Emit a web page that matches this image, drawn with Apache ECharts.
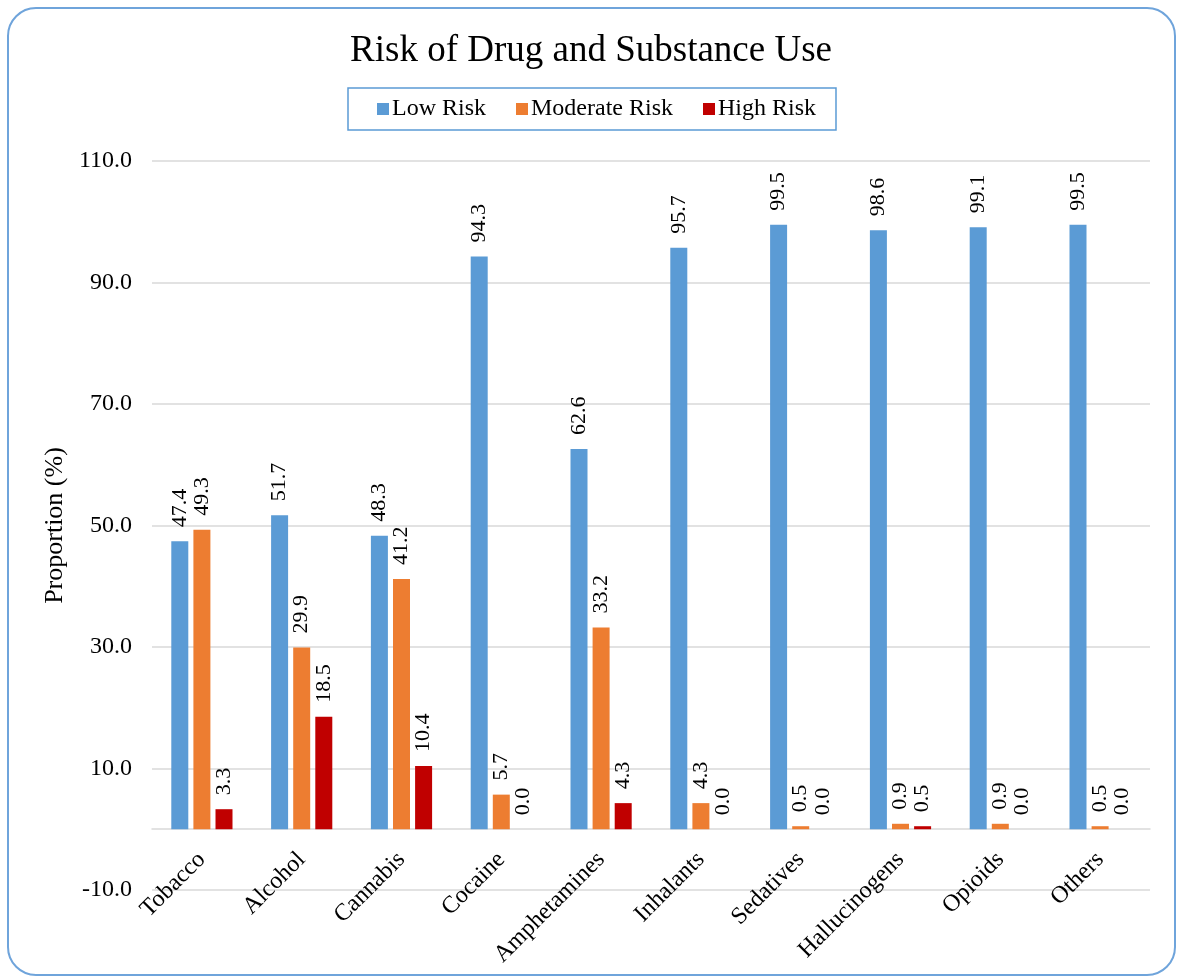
<!DOCTYPE html>
<html>
<head>
<meta charset="utf-8">
<script src="https://cdn.jsdelivr.net/npm/echarts@6/dist/echarts.min.js"></script>
<style>html,body{margin:0;padding:0;background:#fff;}#c{width:1182px;height:979px;}</style>
</head>
<body>
<div id="c"></div>
<script>
const categories = ['Tobacco','Alcohol','Cannabis','Cocaine','Amphetamines','Inhalants','Sedatives','Hallucinogens','Opioids','Others'];
const lowRisk = [47.4, 51.7, 48.3, 94.3, 62.6, 95.7, 99.5, 98.6, 99.1, 99.5];
const moderateRisk = [49.3, 29.9, 41.2, 5.7, 33.2, 4.3, 0.5, 0.9, 0.9, 0.5];
const highRisk = [3.3, 18.5, 10.4, 0.0, 4.3, 0.0, 0.0, 0.5, 0.0, 0.0];
const seriesNames = ['Low Risk','Moderate Risk','High Risk'];

const FONT = '"Liberation Serif","Times New Roman",serif';
const colors = ['#5B9BD5','#ED7D31','#C00000'];

const chart = echarts.init(document.getElementById('c'), null, {renderer:'canvas'});
function mk(name, data, color){
  return {
    name, type:'bar', data, barWidth:17, barGap:'30%',
    itemStyle:{color},
    label:{show:true, position:'top', rotate:90, align:'left', verticalAlign:'middle',
      distance:14, fontFamily:FONT, fontSize:22, color:'#000',
      formatter:p=>p.value.toFixed(1)}
  };
}
chart.setOption({
  animation:false,
  title:{text:'Risk of Drug and Substance Use', left:'center', top:28,
    textStyle:{fontFamily:FONT, fontSize:37, fontWeight:'normal', color:'#000'}},
  legend:{top:88, left:348, itemWidth:12, itemHeight:12, itemGap:30, icon:'rect',
    borderColor:'#5B9BD5', borderWidth:1.5, padding:[9,20,9,29],
    textStyle:{fontFamily:FONT, fontSize:24, color:'#000', padding:[0,0,0,-2]},
    data:seriesNames},
  grid:{left:152, right:32, top:161, bottom:89, containLabel:false, outerBoundsMode:'none'},
  xAxis:{type:'category', data:categories, offset:-61,
    axisLine:{onZero:false, lineStyle:{color:'#D9D9D9', width:1.5}},
    axisTick:{show:false},
    axisLabel:{rotate:45, interval:0, margin:27, hideOverlap:false, fontFamily:FONT, fontSize:24, color:'#000'}},
  yAxis:{type:'value', min:-10, max:110, interval:20,
    name:'Proportion (%)', nameLocation:'middle', nameGap:81, nameRotate:90,
    nameTextStyle:{fontFamily:FONT, fontSize:26, color:'#000'},
    axisLine:{show:false}, axisTick:{show:false},
    axisLabel:{fontFamily:FONT, fontSize:24, color:'#000', margin:20, formatter:v=>v.toFixed(1)},
    splitLine:{lineStyle:{color:'#D9D9D9', width:1.5}}},
  series:[mk(seriesNames[0], lowRisk, colors[0]), mk(seriesNames[1], moderateRisk, colors[1]), mk(seriesNames[2], highRisk, colors[2])],
  graphic:[{type:'rect', shape:{x:8, y:8, width:1167, height:967, r:28},
    style:{fill:'none', stroke:'#6FA4DB', lineWidth:2}, z:-1}]
});
</script>
</body>
</html>
